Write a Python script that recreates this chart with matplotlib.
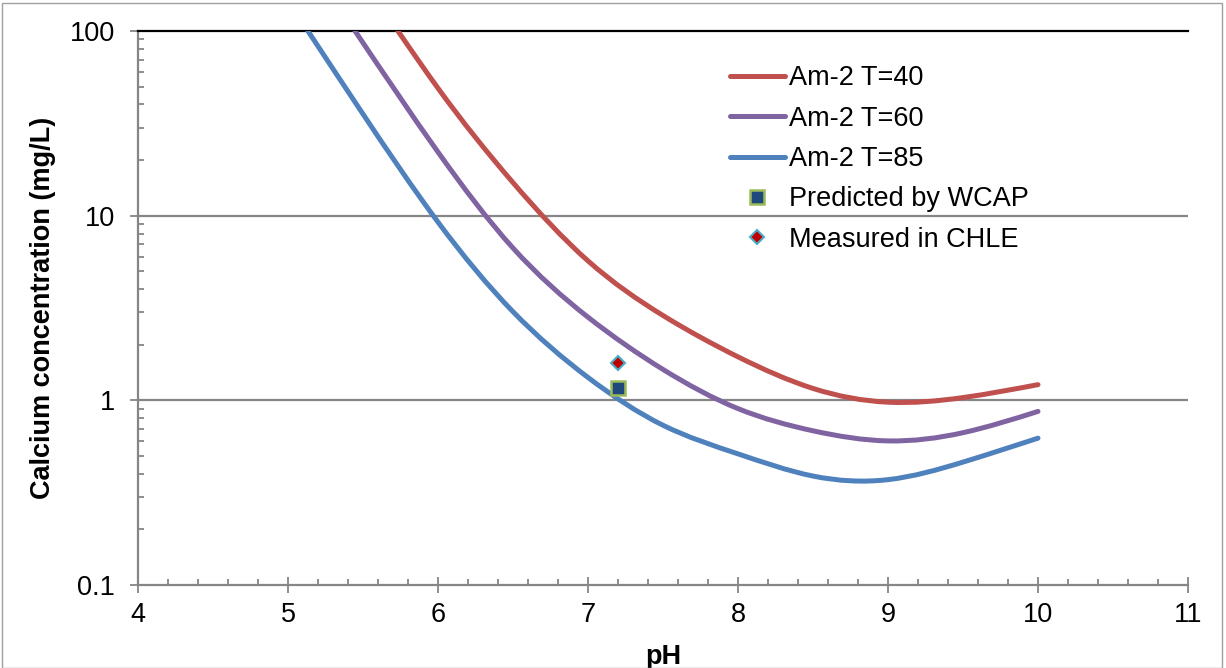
import matplotlib
matplotlib.use("Agg")
import numpy as np
import matplotlib.pyplot as plt
from matplotlib.ticker import MultipleLocator, FixedLocator, FixedFormatter, LogLocator, NullFormatter
from matplotlib.patches import Rectangle, PathPatch
from matplotlib.path import Path
from matplotlib.lines import Line2D

plt.rcParams['font.family'] = ['Liberation Sans', 'DejaVu Sans']

# Data
ph_t40 = [5.733, 6.0, 6.5, 7.0, 7.5, 8.0, 8.5, 9.0, 9.5, 10.0]
ca_t40 = [100, 49, 15.1, 5.69, 2.88, 1.72, 1.16, 0.977, 1.035, 1.216]

ph_t60 = [5.447, 6.0, 6.5, 7.0, 7.5, 8.0, 8.5, 9.0, 9.5, 10.0]
ca_t60 = [100, 22.1, 6.68, 2.82, 1.47, 0.902, 0.684, 0.603, 0.668, 0.871]

ph_t85 = [5.133, 5.5, 6.0, 6.5, 7.0, 7.5, 8.0, 8.5, 9.0, 9.5, 10.0]
ca_t85 = [100, 35.5, 9.23, 3.02, 1.33, 0.733, 0.513, 0.389, 0.372, 0.463, 0.624]

ph_wcap = [7.2]
ca_wcap = [1.166]
ph_chle = [7.2]
ca_chle = [1.59]

x_ticks = [4, 5, 6, 7, 8, 9, 10, 11]
y_ticks = [0.1, 1, 10, 100]
y_labels = ['0.1', '1', '10', '100']

series = [
    ('Am-2 T=40', ph_t40, ca_t40, '#C0504D'),
    ('Am-2 T=60', ph_t60, ca_t60, '#8064A2'),
    ('Am-2 T=85', ph_t85, ca_t85, '#4F81BD'),
]

FS = 19.5
fig = plt.figure(figsize=(12.26, 6.68), dpi=100)
fig.patches.append(Rectangle((0.002, 0.0), 0.995, 0.995, transform=fig.transFigure,
                             fill=False, edgecolor='#A0A0A0', linewidth=1.0))
ax = fig.add_axes([138/1226, 1-585/668, (1188-138)/1226, (585-31)/668])

ax.set_yscale('log')
ax.set_xlim(4, 11)
ax.set_ylim(0.1, 100)

for yv in [1, 10]:
    ax.axhline(yv, color='#868686', linewidth=1.6, zorder=1)


def smooth_path(xs, ys):
    # Smoothed line style: natural cubic spline (in log-y) through the read points,
    # drawn as cubic Bezier segments of a Path.
    x = np.asarray(xs, float)
    ly = np.log10(np.asarray(ys, float))
    n = len(x)
    h = np.diff(x)
    A = np.zeros((n, n))
    b = np.zeros(n)
    A[0, 0] = 1.0
    A[-1, -1] = 1.0
    for i in range(1, n - 1):
        A[i, i - 1] = h[i - 1]
        A[i, i] = 2.0 * (h[i - 1] + h[i])
        A[i, i + 1] = h[i]
        b[i] = 6.0 * ((ly[i + 1] - ly[i]) / h[i] - (ly[i] - ly[i - 1]) / h[i - 1])
    M = np.linalg.solve(A, b)
    verts = [(x[0], ys[0])]
    codes = [Path.MOVETO]
    for i in range(n - 1):
        hi = h[i]
        d = (ly[i + 1] - ly[i]) / hi
        s0 = d - hi * (2.0 * M[i] + M[i + 1]) / 6.0
        s1 = d + hi * (M[i] + 2.0 * M[i + 1]) / 6.0
        c1 = (x[i] + hi / 3.0, 10 ** (ly[i] + s0 * hi / 3.0))
        c2 = (x[i + 1] - hi / 3.0, 10 ** (ly[i + 1] - s1 * hi / 3.0))
        verts += [c1, c2, (x[i + 1], ys[i + 1])]
        codes += [Path.CURVE4] * 3
    return Path(verts, codes)


lw = 3.6
handles = []
for label, xs, ys, col in series:
    patch = PathPatch(smooth_path(xs, ys), fill=False, edgecolor=col, linewidth=lw,
                      capstyle='round', joinstyle='round', zorder=3, transform=ax.transData)
    ax.add_patch(patch)
    handles.append(Line2D([], [], color=col, linewidth=lw, solid_capstyle='round', label=label))

h4, = ax.plot(ph_wcap, ca_wcap, linestyle='none', marker='s', markersize=10, markerfacecolor='#1F497D',
              markeredgecolor='#9BBB59', markeredgewidth=1.8, label='Predicted by WCAP', zorder=4)
h5, = ax.plot(ph_chle, ca_chle, linestyle='none', marker='D', markersize=7.5, markerfacecolor='#C00000',
              markeredgecolor='#4BACC6', markeredgewidth=1.5, label='Measured in CHLE', zorder=4)
handles += [h4, h5]

ax.spines['right'].set_visible(False)
ax.spines['top'].set_color('black')
ax.spines['top'].set_linewidth(1.6)
for s in ['left', 'bottom']:
    ax.spines[s].set_color('#868686')
    ax.spines[s].set_linewidth(1.6)

ax.xaxis.set_major_locator(FixedLocator(x_ticks))
ax.xaxis.set_minor_locator(MultipleLocator(0.2))
ax.yaxis.set_major_locator(FixedLocator(y_ticks))
ax.yaxis.set_major_formatter(FixedFormatter(y_labels))
ax.yaxis.set_minor_locator(LogLocator(base=10, subs=[2, 3, 4, 5, 6, 7, 8, 9]))
ax.yaxis.set_minor_formatter(NullFormatter())

ax.tick_params(axis='both', which='major', direction='inout', length=12, width=1.3,
               color='#868686', labelsize=FS)
ax.tick_params(axis='x', which='major', pad=6)
ax.tick_params(axis='y', which='major', pad=10.5)
ax.tick_params(axis='both', which='minor', direction='in', length=4.5, width=1.3, color='#868686')

ax.set_xlabel('pH', fontsize=FS, fontweight='bold', labelpad=12)
ax.set_ylabel('Calcium concentration (mg/L)', fontsize=FS, fontweight='bold', labelpad=10)

leg = ax.legend(handles=handles, loc='upper left', bbox_to_anchor=(0.5638, 0.938), frameon=False,
                fontsize=FS, handlelength=2.03, handletextpad=0.15, labelspacing=0.53,
                borderaxespad=0, borderpad=0)

fig.savefig('out.png', dpi=100)
